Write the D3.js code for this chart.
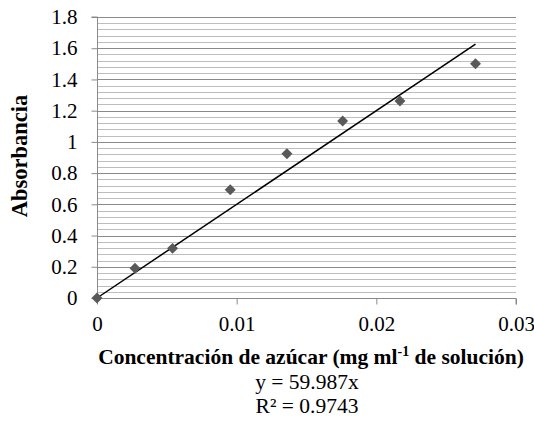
<!DOCTYPE html>
<html><head><meta charset="utf-8">
<script src="https://cdn.jsdelivr.net/npm/d3@7"></script>
<style>
html,body{margin:0;padding:0;background:#fff;}
svg text{font-family:'Liberation Serif','Times New Roman',Times,'DejaVu Serif',serif !important;fill:#000;}
</style></head>
<body><svg id="c" width="534" height="427"></svg>
<script>
const concentration = [0, 0.00272, 0.00541, 0.00954, 0.0136, 0.01759, 0.02169, 0.0271];
const absorbance    = [0, 0.19, 0.318, 0.694, 0.924, 1.134, 1.262, 1.501];
const xTicks = [0, 0.01, 0.02, 0.03];
const yTicks = [0, 0.2, 0.4, 0.6, 0.8, 1, 1.2, 1.4, 1.6, 1.8];
const slope = 59.987;
const equationText = "y = 59.987x";
const r2Text = "R² = 0.9743";

const svg = d3.select("#c");
const x = d3.scaleLinear().domain([0, 0.03]).range([97, 516]);
const y = d3.scaleLinear().domain([0, 1.8]).range([298, 17]);

const minor = d3.range(0, 1.8001, 0.04).filter(v => Math.abs(Math.round(v/0.2)*0.2 - v) > 1e-6);
svg.append("g").selectAll("line").data(minor).join("line")
  .attr("x1", x(0)).attr("x2", x(0.03))
  .attr("y1", d => Math.round(y(d)) + 0.5).attr("y2", d => Math.round(y(d)) + 0.5)
  .attr("stroke", "#bdbdbd").attr("stroke-width", 1);
svg.append("g").selectAll("line").data(yTicks.filter(d => d > 0)).join("line")
  .attr("x1", x(0)).attr("x2", x(0.03))
  .attr("y1", d => Math.round(y(d)) + 0.5).attr("y2", d => Math.round(y(d)) + 0.5)
  .attr("stroke", "#8a8a8a").attr("stroke-width", 1);

const yAxis = svg.append("g").attr("transform", `translate(${x(0)+0.5},0)`)
  .call(d3.axisLeft(y).tickValues(yTicks).tickFormat(d => String(+d.toFixed(1))).tickSize(6).tickPadding(14));
const xAxis = svg.append("g").attr("transform", `translate(0,${Math.round(y(0))+0.5})`)
  .call(d3.axisBottom(x).tickValues(xTicks).tickFormat(d => String(+d.toFixed(2))).tickSize(6).tickPadding(12));
[yAxis, xAxis].forEach(a => {
  a.attr("font-family", null).attr("font-size", null);
  a.select(".domain").attr("stroke", "#8a8a8a");
  a.selectAll(".tick line").attr("stroke", "#8a8a8a");
  a.selectAll(".tick text").style("font-size", "21px").attr("fill", "#000");
});
yAxis.select(".domain").attr("d", `M-6,${y(1.8)}H0V${y(0)}`);
xAxis.select(".domain").attr("d", `M${x(0)},0H${x(0.03)}V6`);

const xMax = d3.max(concentration);
svg.append("line")
  .attr("x1", x(0)).attr("y1", y(0))
  .attr("x2", x(xMax)).attr("y2", y(slope * xMax))
  .attr("stroke", "#000").attr("stroke-width", 1.5);

svg.append("g").selectAll("path").data(concentration.map((c, i) => [c, absorbance[i]])).join("path")
  .attr("d", d3.symbol(d3.symbolSquare, 60))
  .attr("transform", d => `translate(${x(d[0])},${y(d[1])}) rotate(45)`)
  .attr("fill", "#595959");

svg.append("text").attr("transform", "translate(27,156) rotate(-90)")
  .attr("text-anchor", "middle").style("font-size", "22.5px").style("font-weight", "bold")
  .text("Absorbancia");
const t = svg.append("text").attr("x", 311).attr("y", 364).attr("text-anchor", "middle")
  .style("font-size", "21.5px").style("font-weight", "bold");
t.append("tspan").text("Concentración de azúcar (mg ml");
t.append("tspan").attr("dy", -8).style("font-size", "14px").text("-1");
t.append("tspan").attr("dy", 8).text(" de solución)");
svg.append("text").attr("x", 307).attr("y", 389).attr("text-anchor", "middle")
  .style("font-size", "21.5px").text(equationText);
svg.append("text").attr("x", 307).attr("y", 413).attr("text-anchor", "middle")
  .style("font-size", "21.5px").text(r2Text);
</script></body></html>
